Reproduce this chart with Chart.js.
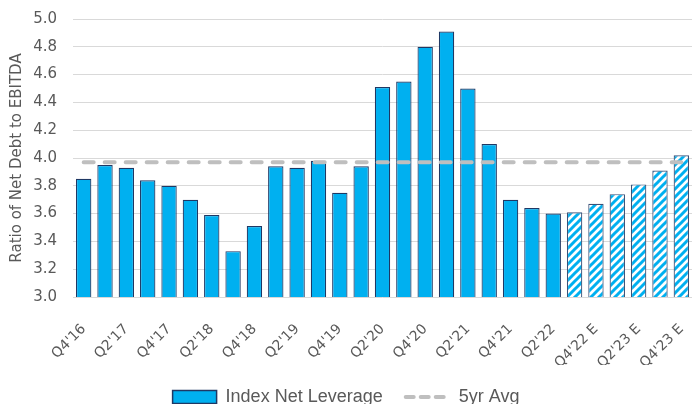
<!DOCTYPE html>
<html>
<head>
<meta charset="utf-8">
<script src="https://cdn.jsdelivr.net/npm/chart.js@4.4.1/dist/chart.umd.min.js"></script>
<style>
  html, body { margin: 0; padding: 0; background: #fff; overflow: hidden; }
  #frame { width: 692px; height: 404px; overflow: hidden; }
  #box { width: 692px; height: 416px; position: relative; }
</style>
</head>
<body>
<div id="frame"><div id="box"><canvas id="chart"></canvas></div></div>
<script>
const quarters = [
  "Q4'16", "Q1'17", "Q2'17", "Q3'17", "Q4'17", "Q1'18", "Q2'18", "Q3'18",
  "Q4'18", "Q1'19", "Q2'19", "Q3'19", "Q4'19", "Q1'20", "Q2'20", "Q3'20",
  "Q4'20", "Q1'21", "Q2'21", "Q3'21", "Q4'21", "Q1'22", "Q2'22",
  "Q3'22 E", "Q4'22 E", "Q1'23 E", "Q2'23 E", "Q3'23 E", "Q4'23 E",
];
const netLeverage = [
  3.85, 3.95, 3.93, 3.84, 3.80, 3.70, 3.59, 3.33,
  3.51, 3.94, 3.93, 3.98, 3.75, 3.94, 4.51, 4.55,
  4.80, 4.91, 4.50, 4.10, 3.70, 3.64, 3.60,
  3.61, 3.67, 3.74, 3.81, 3.91, 4.02,
];
const fiveYrAvg = 3.97;
const yTicks = [3.0, 3.2, 3.4, 3.6, 3.8, 4.0, 4.2, 4.4, 4.6, 4.8, 5.0];

const BLUE = "#00B0F0";
const NAVY = "#1F3864";
const AVG_GRAY = "#BFBFBF";
const TEXT_GRAY = "#595959";

// white tile with blue "/" stripes for the estimate bars
function makeHatch() {
  const size = 8;
  const c = document.createElement("canvas");
  c.width = size;
  c.height = size;
  const g = c.getContext("2d");
  g.fillStyle = "#fff";
  g.fillRect(0, 0, size, size);
  g.strokeStyle = BLUE;
  g.lineWidth = 3;
  g.beginPath();
  g.moveTo(-2, size + 2); g.lineTo(size + 2, -2);
  g.moveTo(-2, 2); g.lineTo(2, -2);
  g.moveTo(size - 2, size + 2); g.lineTo(size + 2, size - 2);
  g.stroke();
  return g.createPattern(c, "repeat");
}

const hatch = makeHatch();
const isEstimate = quarters.map((q) => q.endsWith(" E"));

const ctx = document.getElementById("chart").getContext("2d");
new Chart(ctx, {
  type: "bar",
  data: {
    labels: quarters,
    datasets: [
      {
        type: "line",
        label: "5yr Avg",
        data: quarters.map(() => fiveYrAvg),
        borderColor: AVG_GRAY,
        borderWidth: 4,
        borderDash: [10, 11],
        borderCapStyle: "round",
        pointRadius: 0,
        fill: false,
        order: 1,
      },
      {
        label: "Index Net Leverage",
        data: netLeverage,
        backgroundColor: isEstimate.map((e) => (e ? hatch : BLUE)),
        borderColor: isEstimate.map((e) => (e ? "#3B5177" : NAVY)),
        borderWidth: 1.2,
        barPercentage: 0.72,
        categoryPercentage: 1,
        order: 2,
      },
    ],
  },
  options: {
    responsive: true,
    maintainAspectRatio: false,
    animation: false,
    layout: { padding: { top: 19, right: 0, left: 0, bottom: 0 } },
    plugins: {
      tooltip: { enabled: false },
      legend: {
        position: "bottom",
        labels: {
          font: { family: "Liberation Sans", size: 18 },
          color: TEXT_GRAY,
          usePointStyle: true,
          pointStyleWidth: 44,
          boxHeight: 13,
          padding: 23,
          generateLabels: () => [
            {
              text: "Index Net Leverage",
              pointStyle: "rect",
              fillStyle: BLUE,
              strokeStyle: NAVY,
              lineWidth: 1.5,
              fontColor: TEXT_GRAY,
              datasetIndex: 1,
            },
            {
              text: "5yr Avg",
              pointStyle: "line",
              fillStyle: AVG_GRAY,
              strokeStyle: AVG_GRAY,
              lineWidth: 4,
              lineDash: [8, 7],
              lineCap: "round",
              fontColor: TEXT_GRAY,
              datasetIndex: 0,
            },
          ],
        },
      },
    },
    scales: {
      x: {
        grid: { display: false },
        border: { display: false },
        ticks: {
          autoSkip: false,
          maxRotation: 45,
          minRotation: 45,
          padding: 16,
          color: TEXT_GRAY,
          font: { family: "DejaVu Sans", size: 14 },
          callback: (v, i) => (i % 2 === 0 ? quarters[i] : ""),
        },
        afterFit: (s) => {
          s.height = 68;
          s.paddingRight = 0;
          s.paddingLeft = 0;
        },
      },
      y: {
        min: yTicks[0],
        max: yTicks[yTicks.length - 1],
        afterBuildTicks: (s) => { s.ticks = yTicks.map((v) => ({ value: v })); },
        grid: { color: "#D9D9D9", lineWidth: 1, drawTicks: false },
        border: { display: false },
        ticks: {
          color: TEXT_GRAY,
          padding: 16,
          font: { family: "DejaVu Sans", size: 15 },
          callback: (v) => Number(v).toFixed(1),
        },
        title: {
          display: true,
          text: "Ratio of Net Debt to EBITDA",
          color: TEXT_GRAY,
          font: { family: "DejaVu Sans", size: 15 },
          padding: { top: 8, bottom: 0 },
        },
        afterFit: (s) => {
          s.width = 73;
          s.paddingTop = 0;
          s.paddingBottom = 0;
        },
      },
    },
  },
});
</script>
</body>
</html>
